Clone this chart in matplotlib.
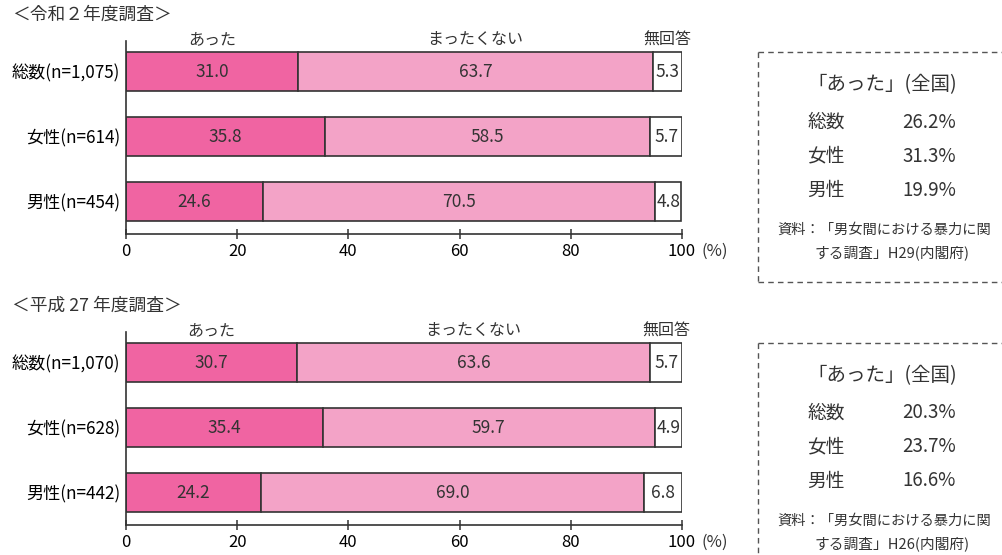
import matplotlib
matplotlib.use("Agg")
import matplotlib.pyplot as plt
from matplotlib.lines import Line2D

plt.rcParams['font.family'] = ['Noto Sans CJK JP', 'DejaVu Sans']
plt.rcParams['text.color'] = '#333333'

# data
series_names = ['あった', 'まったくない', '無回答']
colors = ['#f064a2', '#f3a3c7', '#ffffff']

r2_title = '＜令和２年度調査＞'
r2_labels = ['総数(n=1,075)', '女性(n=614)', '男性(n=454)']
r2_atta = [31.0, 35.8, 24.6]
r2_nai = [63.7, 58.5, 70.5]
r2_na = [5.3, 5.7, 4.8]

h27_title = '＜平成 27 年度調査＞'
h27_labels = ['総数(n=1,070)', '女性(n=628)', '男性(n=442)']
h27_atta = [30.7, 35.4, 24.2]
h27_nai = [63.6, 59.7, 69.0]
h27_na = [5.7, 4.9, 6.8]

box_groups = ['総数', '女性', '男性']
r2_national = ['26.2%', '31.3%', '19.9%']
h27_national = ['20.3%', '23.7%', '16.6%']
r2_source = ['資料：「男女間における暴力に関', 'する調査」H29(内閣府)']
h27_source = ['資料：「男女間における暴力に関', 'する調査」H26(内閣府)']

W, H = 1003, 555
fig = plt.figure(figsize=(W / 100, H / 100), dpi=100)


def px(x, y):
    return x / W, 1 - y / H


def panel(top, title, labels, a, b, c):
    # axes: x 126..682, y top..top+193 (pixels)
    ax = fig.add_axes([126 / W, 1 - (top + 193) / H, 556 / W, 193 / H])
    ys = range(len(labels))
    lefts = [0] * len(labels)
    for vals, col in zip([a, b, c], colors):
        ax.barh(ys, vals, left=lefts, height=0.59, color=col,
                edgecolor='#333333', linewidth=1.2)
        for y, l, v in zip(ys, lefts, vals):
            ax.text(l + v / 2, y, f'{v:.1f}', ha='center', va='center',
                    fontsize=12.5)
        lefts = [l + v for l, v in zip(lefts, vals)]
    ax.set_xlim(0, 100)
    ax.set_ylim(2.5, -0.47)
    ax.set_yticks(list(ys))
    ax.set_yticklabels(labels, fontsize=12.3)
    ax.tick_params(axis='y', length=0, pad=4)
    ax.set_xticks([0, 20, 40, 60, 80, 100])
    ax.tick_params(axis='x', direction='inout', length=7, width=1.1,
                   labelsize=12, pad=3, color='#333333')
    for s in ['top', 'right']:
        ax.spines[s].set_visible(False)
    for s in ['left', 'bottom']:
        ax.spines[s].set_color('#333333')
        ax.spines[s].set_linewidth(1.2)
    ax.annotate('(%)', xy=(100, 0), xycoords=('data', 'axes fraction'),
                xytext=(14, -6.5), textcoords='offset points',
                ha='left', va='top', fontsize=12)
    # series headers above first bar
    starts = [0, a[0], a[0] + b[0]]
    for name, s, v in zip(series_names, starts, [a[0], b[0], c[0]]):
        ax.text(s + v / 2, -0.49, name, ha='center', va='center',
                fontsize=11.5)
    fig.text(*px(12, top - 26), title, ha='left', va='center', fontsize=12.8)
    return ax


def dashed_box(top, bottom, vals, source):
    kw = dict(color='#555555', linewidth=1.0, linestyle=(0, (4, 3)),
              transform=fig.transFigure)
    x0, y0 = px(758, top)
    fig.add_artist(Line2D([x0, 1.0], [y0, y0], **kw))
    if bottom is not None:
        _, y1 = px(758, bottom)
    else:
        y1 = 0.0
    fig.add_artist(Line2D([x0, x0], [y0, y1], **kw))
    if bottom is not None:
        fig.add_artist(Line2D([x0, 1.0], [y1, y1], **kw))
    fig.text(*px(882, top + 33), '「あった」(全国)', ha='center',
             va='center', fontsize=14)
    for i, (g, v) in enumerate(zip(box_groups, vals)):
        yy = top + 70 + i * 34
        fig.text(*px(807, yy), g, ha='left', va='center', fontsize=13.5)
        fig.text(*px(956, yy), v, ha='right', va='center', fontsize=13.5)
    fig.text(*px(777, top + 178), source[0], ha='left', va='center',
             fontsize=10.3)
    fig.text(*px(815, top + 201), source[1], ha='left', va='center',
             fontsize=10.6)


panel(41, r2_title, r2_labels, r2_atta, r2_nai, r2_na)
panel(332, h27_title, h27_labels, h27_atta, h27_nai, h27_na)
dashed_box(52, 282, r2_national, r2_source)
dashed_box(343, None, h27_national, h27_source)

fig.savefig('out.png', dpi=100)
